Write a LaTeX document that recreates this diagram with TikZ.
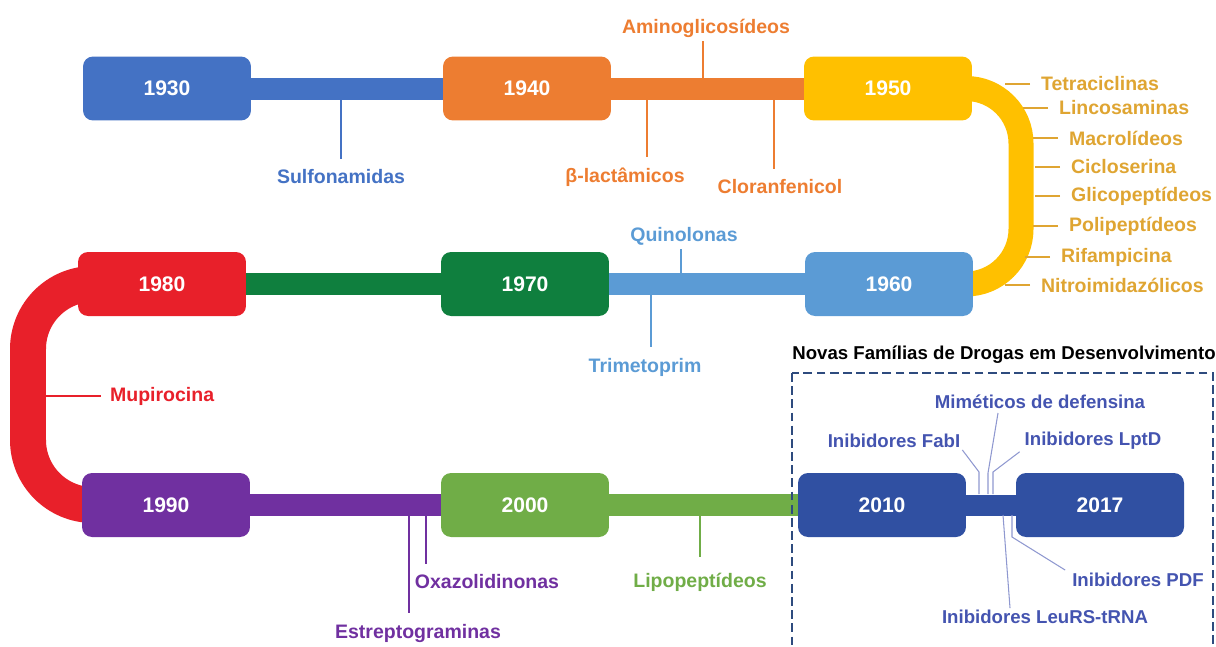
\documentclass[tikz,border=0pt]{standalone}
\usepackage{fontspec}
\setmainfont{Liberation Sans}
\usetikzlibrary{positioning}
\definecolor{blue30}{HTML}{4472C4}
\definecolor{orange40}{HTML}{ED7D31}
\definecolor{yellow50}{HTML}{FFC000}
\definecolor{gold50}{HTML}{DFA532}
\definecolor{blue60}{HTML}{5B9BD5}
\definecolor{green70}{HTML}{0F7F3E}
\definecolor{red80}{HTML}{E8202A}
\definecolor{purple90}{HTML}{7030A0}
\definecolor{green00}{HTML}{70AD47}
\definecolor{blue10}{HTML}{3050A2}
\definecolor{blue10txt}{HTML}{4454B0}
\definecolor{dashblue}{HTML}{2E4B7E}
\pgfdeclarelayer{background}
\pgfsetlayers{background,main}

\begin{document}
\begin{tikzpicture}[x=0.02cm, y=-0.02cm,
    yearbox/.style={rounded corners=0.2cm, minimum width=3.36cm, minimum height=1.28cm, text=white, font=\bfseries\fontsize{12}{14}\selectfont},
    bar/.style={line width=0.44cm},
    lbl/.style={font=\bfseries\fontsize{11.1}{13}\selectfont, inner sep=1pt},
    newlbl/.style={lbl, font=\bfseries\fontsize{10.6}{13}\selectfont, text=blue10txt},
    tick/.style={line width=0.85pt},
    newtick/.style={line width=0.6pt, blue10txt!60!white}]
  \clip (0,0) rectangle (1216,646);
  % Decades
  \foreach \yr/\x/\y/\col in {1930/167/88.5/blue30, 1940/527/88.5/orange40, 1950/888/88.5/yellow50,
      1960/889/284/blue60, 1970/525/284/green70, 1980/162/284/red80,
      1990/166/505/purple90, 2000/525/505/green00, 2010/882/505/blue10, 2017/1100/505/blue10}
    \node[yearbox, fill=\col] (y\yr) at (\x,\y) {\yr};
  % Bars and bends
  \begin{pgfonlayer}{background}
    \foreach \a/\b/\col in {1930/1940/blue30, 1940/1950/orange40, 1960/1970/blue60, 1970/1980/green70,
        1990/2000/purple90, 2000/2010/green00}
      \draw[bar, \col] (y\a.center) -- (y\b.center);
    \draw[line width=0.42cm, blue10] (y2010.center) -- (y2017.center);
    \draw[yellow50, line width=0.5cm, rounded corners=1.1cm] (y1950.center) -- ++(133,0) |- (y1960.center);
    \draw[red80, line width=0.72cm, rounded corners=1.3cm] (y1980.center) -- ++(-134,0) |- (y1990.center);
  \end{pgfonlayer}
  % Row 1 labels
  \node[lbl, text=blue30] (lsulfo) at (341,177) {Sulfonamidas};
  \node[lbl, text=orange40] (lamino) at (706,28) {Aminoglicosídeos};
  \node[lbl, text=orange40] (lbeta) at (625,177) {β-lactâmicos};
  \node[lbl, text=orange40] (lclor) at (780,187) {Cloranfenicol};
  \coordinate (bsulfo) at (341,99.5);
  \coordinate (bamino) at (703,77.5);
  \coordinate (bbeta) at (647,99.5);
  \coordinate (bclor) at (774,99.5);
  \draw[tick, blue30, shorten >=5pt] (bsulfo) -- (bsulfo |- lsulfo.north);
  \draw[tick, orange40, shorten >=1pt] (bamino) -- (bamino |- lamino.south);
  \draw[tick, orange40, shorten >=5pt] (bbeta) -- (bbeta |- lbeta.north);
  \draw[tick, orange40, shorten >=5pt] (bclor) -- (bclor |- lclor.north);
  % Bend labels
  \foreach \name/\x/\y/\txt in {ltetra/1039/84/Tetraciclinas, llinco/1057/108/Lincosaminas,
      lmacro/1067/138/Macrolídeos, lciclo/1069/167/Cicloserina, lglico/1069/196/Glicopeptídeos,
      lpoli/1067/226/Polipeptídeos, lrifa/1059/257/Rifampicina, lnitro/1039/285/Nitroimidazólicos}
  {
    \node[lbl, text=gold50, anchor=west] (\name) at (\x,\y) {\txt};
    \draw[tick, gold50, shorten <=5pt] (\name.west) -- ++(-34,0);
  }
  % Row 2 labels
  \node[lbl, text=blue60] (lquino) at (684,236) {Quinolonas};
  \node[lbl, text=blue60] (ltrime) at (645,367) {Trimetoprim};
  \node[lbl, text=red80, anchor=west] (lmupi) at (108,396) {Mupirocina};
  \coordinate (bquino) at (681,273);
  \coordinate (btrime) at (651,295);
  \coordinate (bmupi) at (44,396);
  \draw[tick, blue60, shorten >=1pt] (bquino) -- (bquino |- lquino.south);
  \draw[tick, blue60, shorten >=5pt] (btrime) -- (btrime |- ltrime.north);
  \draw[tick, red80, shorten >=4pt] (bmupi) -- (lmupi.west);
  % Row 3 labels
  \node[lbl, text=purple90] (loxa) at (487,582) {Oxazolidinonas};
  \node[lbl, text=purple90] (lestrep) at (418,633) {Estreptograminas};
  \node[lbl, text=green00] (llipo) at (700,582) {Lipopeptídeos};
  \coordinate (boxa) at (426,516);
  \coordinate (bestrep) at (409,516);
  \coordinate (blipo) at (700,516);
  \draw[tick, purple90, shorten >=5pt] (boxa) -- (boxa |- loxa.north);
  \draw[tick, purple90, shorten >=5pt] (bestrep) -- (bestrep |- lestrep.north);
  \draw[tick, green00, shorten >=8pt] (blipo) -- (blipo |- llipo.north);
  % New families
  \node[font=\bfseries\fontsize{10.6}{12}\selectfont, inner sep=0pt, anchor=west] (ltitle) at (792,355) {Novas Famílias de Drogas em Desenvolvimento};
  \draw[dashblue, line width=1.4pt, dash pattern=on 5pt off 2.5pt] (792,373) rectangle (1213,700);
  \node[newlbl] (lmimet) at (1040,402) {Miméticos de defensina};
  \node[newlbl] (lfabi) at (894,441) {Inibidores FabI};
  \node[newlbl] (llptd) at (1093,441) {Inibidores LptD};
  \node[newlbl] (lpdf) at (1138,580) {Inibidores PDF};
  \node[newlbl] (lleurs) at (1045,617) {Inibidores LeuRS-tRNA};
  \coordinate (bfabi) at (979,494);
  \coordinate (bmimet) at (988,494);
  \coordinate (blptd) at (993,494);
  \coordinate (bpdf) at (1012,515);
  \coordinate (bleurs) at (1003,515);
  \draw[newtick] (bfabi) -- ++(0,-22) -- (lfabi.south east);
  \draw[newtick] (bmimet) -- ++(0,-21) -- (998,413);
  \draw[newtick] (blptd) -- ++(0,-22) -- ([xshift=-0.06cm]llptd.south west);
  \draw[newtick] (bpdf) -- ++(0,22) -- ([xshift=-0.1cm, yshift=0.02cm]lpdf.north west);
  \draw[newtick] (bleurs) -- ([xshift=-0.7cm]lleurs.north);
\end{tikzpicture}
\end{document}
